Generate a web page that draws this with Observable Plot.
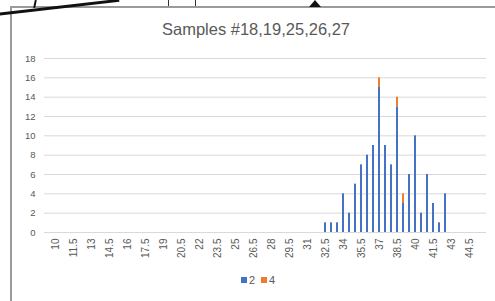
<!DOCTYPE html>
<html>
<head>
<meta charset="utf-8">
<script src="https://cdn.jsdelivr.net/npm/d3@7"></script>
<script src="https://cdn.jsdelivr.net/npm/@observablehq/plot@0.6"></script>
<style>
  html, body { margin: 0; padding: 0; background: #fff; }
  body { width: 495px; height: 301px; position: relative; overflow: hidden; font-family: "Liberation Sans", Arial, sans-serif; }
  #frame { position: absolute; left: 10px; top: 6px; width: 490px; height: 300px; border-left: 2px solid #9a9a9a; border-top: 2px solid #9a9a9a; }
  #deco1 { position: absolute; left: -5px; top: 13px; width: 125px; height: 3px; background: #111; transform: rotate(-6.5deg); transform-origin: left center; }
  #deco2 { position: absolute; left: 34px; top: 0px; width: 2px; height: 8px; background: #111; transform: rotate(12deg); }
  #deco3 { position: absolute; left: 168px; top: 0px; width: 26px; height: 6px; border-left: 1px solid #333; border-right: 1px solid #333; }
  #deco4 { position: absolute; left: 309px; top: 0px; width: 0; height: 0; border-left: 6px solid transparent; border-right: 6px solid transparent; border-bottom: 7px solid #111; }
  #title { position: absolute; left: 0; width: 512px; top: 20px; text-align: center; font-size: 16.5px; color: #595959; }
  #chart { position: absolute; left: 0; top: 45px; }
  #legend { position: absolute; left: 0; width: 516px; top: 274px; text-align: center; font-size: 11px; color: #595959; }
  #legend span.sw { display: inline-block; width: 6px; height: 6px; margin-right: 2px; vertical-align: 1px; }
  #legend span.item { margin: 0 3px; }
</style>
</head>
<body>
<div id="frame"></div>
<div id="deco1"></div>
<div id="deco2"></div>
<div id="deco3"></div>
<div id="deco4"></div>
<div id="title">Samples #18,19,25,26,27</div>
<div id="chart"></div>
<div id="legend"></div>
<script>
const categories = ["10","10.5","11","11.5","12","12.5","13","13.5","14","14.5","15","15.5","16","16.5","17","17.5","18","18.5","19","19.5","20","20.5","21","21.5","22","22.5","23","23.5","24","24.5","25","25.5","26","26.5","27","27.5","28","28.5","29","29.5","30","30.5","31","31.5","32","32.5","33","33.5","34","34.5","35","35.5","36","36.5","37","37.5","38","38.5","39","39.5","40","40.5","41","41.5","42","42.5","43","43.5","44","44.5","45"];
const xTickLabels = ["10","11.5","13","14.5","16","17.5","19","20.5","22","23.5","25","26.5","28","29.5","31","32.5","34","35.5","37","38.5","40","41.5","43","44.5"];
const yTicks = [0, 2, 4, 6, 8, 10, 12, 14, 16, 18];
const seriesNames = ["2", "4"];
const seriesColors = ["#4472C4", "#ED7D31"];
// observed bins (others are zero)
const bins      = ["32.5","33","33.5","34","34.5","35","35.5","36","36.5","37","37.5","38","38.5","39","39.5","40","40.5","41","41.5","42","42.5"];
const series2   = [1, 1, 1, 4, 2, 5, 7, 8, 9, 15, 9, 7, 13, 3, 6, 10, 2, 6, 3, 1, 4];
const series4   = [0, 0, 0, 0, 0, 0, 0, 0, 0, 1, 0, 0, 1, 1, 0, 0, 0, 0, 0, 0, 0];

const rows = [];
bins.forEach((b, i) => {
  rows.push({bin: b, series: seriesNames[0], value: series2[i]});
  rows.push({bin: b, series: seriesNames[1], value: series4[i]});
});

const chart = Plot.plot({
  width: 495,
  height: 230,
  marginLeft: 44,
  marginRight: 9,
  marginTop: 13,
  marginBottom: 43,
  style: {fontFamily: "Liberation Sans, Arial, sans-serif", fontSize: "10px", color: "#595959", background: "transparent"},
  x: {domain: categories, paddingInner: 0.6, paddingOuter: 0.3, label: null},
  y: {domain: [0, 18], label: null},
  color: {domain: seriesNames, range: seriesColors},
  marks: [
    Plot.gridY(yTicks, {stroke: "#d9d9d9", strokeOpacity: 1, strokeWidth: 1}),
    Plot.axisY(yTicks, {tickSize: 0, tickPadding: 9, fill: "#595959", fontSize: 9.5}),
    Plot.axisX(xTickLabels, {tickSize: 0, tickPadding: 6, tickRotate: -90, fill: "#595959", fontSize: 10}),
    Plot.barY(rows, Plot.stackY({x: "bin", y: "value", fill: "series", order: seriesNames}))
  ]
});
document.getElementById("chart").appendChild(chart);

const legend = document.getElementById("legend");
seriesNames.forEach((s, i) => {
  const item = document.createElement("span");
  item.className = "item";
  const sw = document.createElement("span");
  sw.className = "sw";
  sw.style.background = seriesColors[i];
  item.appendChild(sw);
  item.appendChild(document.createTextNode(s));
  legend.appendChild(item);
});
</script>
</body>
</html>
